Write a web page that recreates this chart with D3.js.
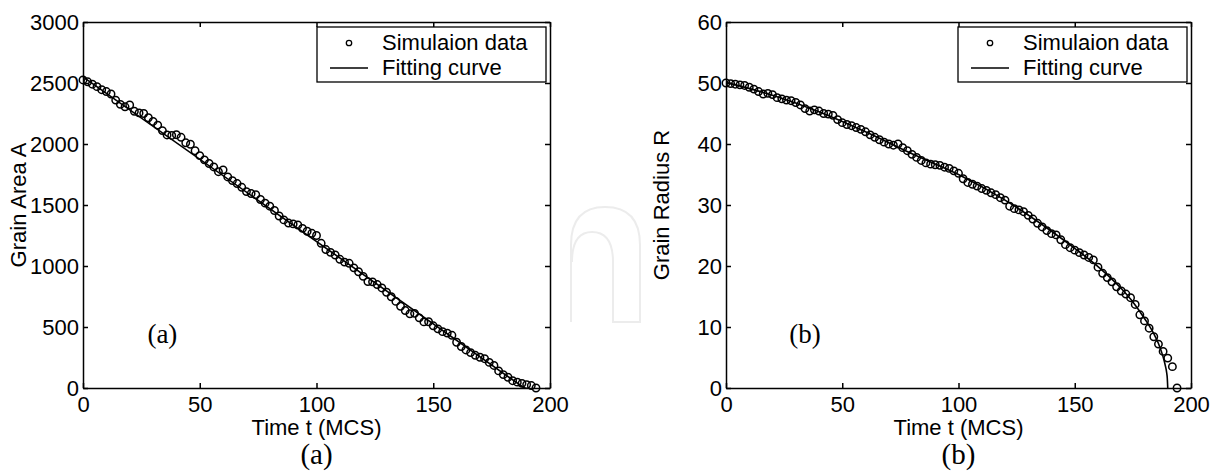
<!DOCTYPE html>
<html>
<head>
<meta charset="utf-8">
<script src="https://cdn.jsdelivr.net/npm/d3@7"></script>
<style>
  body { margin: 0; background: #fff; }
  svg { display: block; font-family: 'Liberation Sans', Arial, sans-serif; }
  .axis path, .axis line { stroke: #000; stroke-width: 1.5; }
  .axis text { font-size: 22px; fill: #000; font-family: 'Liberation Sans', Arial, sans-serif; }
</style>
</head>
<body>
<script>

// sampling times (MCS) of the simulation
const times = [0, 2, 4, 6, 8, 10, 12, 14, 16, 18, 20, 22, 24, 26, 28, 30, 32, 34, 36, 38,
  40, 42, 44, 46, 48, 50, 52, 54, 56, 58, 60, 62, 64, 66, 68, 70, 72, 74, 76, 78,
  80, 82, 84, 86, 88, 90, 92, 94, 96, 98, 100, 102, 104, 106, 108, 110, 112, 114, 116, 118,
  120, 122, 124, 126, 128, 130, 132, 134, 136, 138, 140, 142, 144, 146, 148, 150, 152, 154, 156, 158,
  160, 162, 164, 166, 168, 170, 172, 174, 176, 178, 180, 182, 184, 186, 188, 190, 192, 194];

// (a) grain area
const areaValues = [2525, 2510, 2490, 2470, 2445, 2430, 2410, 2360, 2325, 2305,
  2320, 2268, 2255, 2250, 2215, 2185, 2155, 2110, 2074, 2070,
  2076, 2055, 2010, 1998, 1945, 1905, 1870, 1840, 1812, 1773,
  1788, 1730, 1700, 1676, 1645, 1610, 1594, 1584, 1545, 1515,
  1490, 1455, 1410, 1378, 1352, 1345, 1336, 1308, 1285, 1268,
  1250, 1186, 1135, 1112, 1090, 1055, 1032, 1022, 985, 953,
  915, 872, 870, 848, 820, 785, 748, 710, 670, 635,
  608, 612, 575, 542, 543, 510, 485, 462, 450, 432,
  375, 340, 312, 290, 268, 252, 240, 210, 185, 140,
  110, 88, 60, 48, 38, 28, 20, 0];
const areaFitT = [0, 189];
const areaFitV = [2550, 0];

// (b) grain radius
const radiusValues = [50.0, 49.9, 49.8, 49.7, 49.6, 49.3, 49.0, 48.6, 48.2, 48.3,
  48.1, 47.6, 47.4, 47.2, 47.1, 46.8, 46.4, 45.8, 45.4, 45.6,
  45.4, 45.0, 44.9, 44.7, 44.0, 43.5, 43.2, 43.0, 42.7, 42.4,
  42.0, 41.5, 41.1, 40.7, 40.3, 40.0, 39.8, 40.0, 39.4, 38.9,
  38.3, 37.8, 37.3, 36.9, 36.7, 36.6, 36.5, 36.2, 36.0, 35.6,
  35.2, 34.3, 33.7, 33.4, 33.1, 32.7, 32.4, 32.0, 31.7, 31.2,
  30.8, 29.8, 29.4, 29.2, 28.9, 28.3, 27.7, 27.0, 26.4, 25.8,
  25.3, 25.1, 24.3, 23.5, 23.0, 22.6, 22.2, 21.8, 21.4, 21.0,
  19.8, 18.8, 18.1, 17.4, 16.6, 15.9, 15.4, 14.8, 13.7, 12.0,
  11.0, 9.8, 8.4, 7.2, 6.0, 4.9, 3.5, 0];
const radiusFitT = [0, 20, 40, 60, 80, 100, 120, 140, 150, 160, 170, 175, 180, 184, 186, 188, 189, 189.5, 189.8, 190];
const radiusFitV = [50.1, 48.0, 45.3, 42.0, 38.4, 35.0, 30.8, 25.7, 22.9, 19.9, 16.3, 14.1, 11.4, 8.9, 7.3, 5.1, 3.6, 2.6, 1.6, 0];

// tick labels
const xTicks = [0, 50, 100, 150, 200];
const areaTicks = [0, 500, 1000, 1500, 2000, 2500, 3000];
const radiusTicks = [0, 10, 20, 30, 40, 50, 60];

const legendLabels = ['Simulaion data', 'Fitting curve'];

const DM = { width: 1216, height: 476, top: 22, bottom: 388 };

const SVG = d3.select('body')
              .append('svg')
              .attr('width', DM.width)
              .attr('height', DM.height);

// faint watermark between the panels
SVG.append('path')
   .attr('d', 'M571,322 L571,245 Q571,207 605,207 Q640,207 640,245 L640,322 L613,322 L613,262 Q613,232 592,232 Q572,232 572,262')
   .attr('fill', 'none')
   .attr('stroke', '#ececec')
   .attr('stroke-width', 2);

function drawPanel(P) {

  const xScale = d3.scaleLinear()
                   .domain([0, 200])
                   .range([P.left, P.right]);
  const yScale = d3.scaleLinear()
                   .domain([0, P.yMax])
                   .range([DM.bottom, DM.top]);

  // four sides with inward ticks
  SVG.append('g')
     .attr('class', 'axis')
     .attr('transform', `translate(0, ${DM.bottom})`)
     .call(d3.axisBottom(xScale).tickValues(xTicks).tickSizeInner(-5).tickSizeOuter(0).tickPadding(8).tickFormat(d3.format('d')));
  SVG.append('g')
     .attr('class', 'axis')
     .attr('transform', `translate(0, ${DM.top})`)
     .call(d3.axisTop(xScale).tickValues(xTicks).tickSizeInner(-5).tickSizeOuter(0).tickFormat(''));
  SVG.append('g')
     .attr('class', 'axis')
     .attr('transform', `translate(${P.left}, 0)`)
     .call(d3.axisLeft(yScale).tickValues(P.ticks).tickSizeInner(-5).tickSizeOuter(0).tickPadding(4).tickFormat(d3.format('d')));
  SVG.append('g')
     .attr('class', 'axis')
     .attr('transform', `translate(${P.right}, 0)`)
     .call(d3.axisRight(yScale).tickValues(P.ticks).tickSizeInner(-5).tickSizeOuter(0).tickFormat(''));

  // axis titles
  SVG.append('text')
     .attr('transform', `translate(${P.left - 57}, ${(DM.top + DM.bottom) / 2}) rotate(-90)`)
     .attr('text-anchor', 'middle')
     .style('font-size', '22px')
     .text(P.yLabel);
  SVG.append('text')
     .attr('x', (P.left + P.right) / 2)
     .attr('y', 435)
     .attr('text-anchor', 'middle')
     .style('font-size', '22px')
     .text('Time t (MCS)');

  // fitting curve
  const fitLine = d3.line()
                    .x(d => xScale(d[0]))
                    .y(d => yScale(d[1]))
                    .curve(d3.curveMonotoneX);
  SVG.append('path')
     .datum(P.fitT.map((t, i) => [t, P.fitV[i]]))
     .attr('d', fitLine)
     .attr('fill', 'none')
     .attr('stroke', '#000')
     .attr('stroke-width', 1.6);

  // simulation data
  SVG.append('g')
     .selectAll('circle')
     .data(times.map((t, i) => [t, P.values[i]]))
     .enter()
     .append('circle')
     .attr('cx', d => xScale(d[0]))
     .attr('cy', d => yScale(d[1]))
     .attr('r', 3.7)
     .attr('fill', 'none')
     .attr('stroke', '#000')
     .attr('stroke-width', 1.5);

  // panel tag inside the axes
  SVG.append('text')
     .attr('x', xScale(34))
     .attr('y', 343)
     .attr('text-anchor', 'middle')
     .style('font-family', "'Liberation Serif', 'Times New Roman', serif")
     .style('font-size', '27px')
     .text(P.tag);

  // caption under the panel
  SVG.append('text')
     .attr('x', (P.left + P.right) / 2)
     .attr('y', 464)
     .attr('text-anchor', 'middle')
     .style('font-family', "'Liberation Serif', 'Times New Roman', serif")
     .style('font-size', '29px')
     .text(P.tag);

  // legend
  const L = SVG.append('g')
               .attr('transform', `translate(${P.right}, 0)`);
  L.append('rect')
   .attr('x', -233)
   .attr('y', 27)
   .attr('width', 229)
   .attr('height', 55)
   .attr('fill', '#fff')
   .attr('stroke', '#000')
   .attr('stroke-width', 1.3);
  L.append('circle')
   .attr('cx', -201)
   .attr('cy', 43)
   .attr('r', 2.7)
   .attr('fill', 'none')
   .attr('stroke', '#000')
   .attr('stroke-width', 1.3);
  L.append('line')
   .attr('x1', -220)
   .attr('x2', -182)
   .attr('y1', 68)
   .attr('y2', 68)
   .attr('stroke', '#000')
   .attr('stroke-width', 1.6);
  L.selectAll('.legtext')
   .data(legendLabels)
   .enter()
   .append('text')
   .attr('class', 'legtext')
   .attr('x', -168)
   .attr('y', (d, i) => i === 0 ? 50 : 75)
   .style('font-size', '22px')
   .text(d => d);
}

drawPanel({ left: 83, right: 550, yMax: 3000, ticks: areaTicks, yLabel: 'Grain Area A',
            values: areaValues, fitT: areaFitT, fitV: areaFitV, tag: '(a)' });
drawPanel({ left: 726, right: 1191, yMax: 60, ticks: radiusTicks, yLabel: 'Grain Radius R',
            values: radiusValues, fitT: radiusFitT, fitV: radiusFitV, tag: '(b)' });

</script>
</body>
</html>
